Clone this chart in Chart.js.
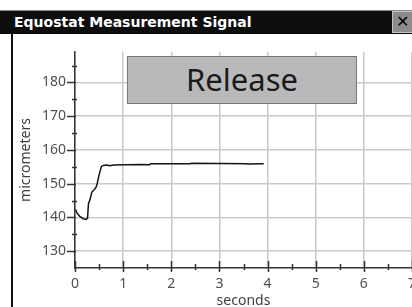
<!DOCTYPE html>
<html>
<head>
<meta charset="utf-8">
<script src="https://cdn.jsdelivr.net/npm/chart.js@4/dist/chart.umd.min.js"></script>
<style>
  html, body { margin: 0; padding: 0; background: #fff; }
  #wrap { position: relative; width: 412px; height: 307px; overflow: hidden; background: #fff; }
  #plot { position: absolute; left: 0; top: 0; }
  #titlebar {
    position: absolute; left: 0; top: 10px; width: 412px; height: 24px;
    background: #0d0d0d; border-top: 1px solid #888; box-sizing: border-box;
    color: #fff; font: bold 14px "DejaVu Sans", sans-serif; line-height: 22px;
    padding-left: 14px; white-space: nowrap;
  }
  #closebtn {
    position: absolute; left: 392px; top: 11px; width: 24px; height: 22px;
    background: #8c8c8c; border: 1px solid #c4c4c4; box-sizing: border-box;
    color: #000; font: bold 16px "DejaVu Sans", sans-serif; line-height: 20px;
    padding-left: 3px;
  }
  #leftedge { position: absolute; left: 11px; top: 34px; width: 2px; height: 273px; background: #111; }
  #release {
    position: absolute; left: 127px; top: 56px; width: 230px; height: 48px;
    background: #b9b9bc; border: 1.5px solid #767676; box-sizing: border-box;
    font: 31px "Noto Sans", sans-serif; color: #1a1a1a; text-align: center; line-height: 44px;
  }
</style>
</head>
<body>
<div id="wrap">
  <canvas id="plot" width="412" height="307"></canvas>
  <div id="leftedge"></div>
  <div id="titlebar">Equostat Measurement Signal</div>
  <div id="closebtn">✕</div>
  <div id="release">Release</div>
</div>
<script>
// signal samples
const timeSec = [0.01, 0.05, 0.10, 0.17, 0.23, 0.26, 0.28, 0.31, 0.35, 0.40, 0.44, 0.46, 0.49, 0.52, 0.55, 0.59, 0.66, 0.73, 0.80, 1.34, 1.55, 1.57, 2.40, 2.42, 3.57, 3.59, 3.92];
const microns = [142.3, 141.1, 140.3, 139.6, 139.4, 139.8, 144.1, 145.2, 147.5, 148.2, 149.0, 150.0, 151.9, 153.7, 155.1, 155.4, 155.5, 155.3, 155.5, 155.7, 155.6, 155.9, 155.9, 156.0, 155.9, 155.8, 155.9];

const xTicks = [0, 1, 2, 3, 4, 5, 6, 7];
const yTicks = [130, 140, 150, 160, 170, 180];
const xRange = [0, 7];
const yRange = [125, 189];

const labelFont = { family: 'Noto Sans', size: 14 };

// tick marks crossing the axis lines (major + minor)
const axisTicks = {
  id: 'axisTicks',
  afterDraw(chart) {
    const ctx = chart.ctx;
    const xs = chart.scales.x, ys = chart.scales.y;
    const x0 = xs.left, yb = ys.bottom;
    ctx.save();
    ctx.strokeStyle = '#333';
    ctx.lineWidth = 1.5;
    ctx.beginPath();
    for (let v = xRange[0]; v <= xRange[1]; v += 0.5) {
      const px = Math.round(xs.getPixelForValue(v)) + 0.5;
      const major = v % 1 === 0;
      ctx.moveTo(px, yb - (major ? 7 : 4));
      ctx.lineTo(px, yb + (major ? 4 : 2));
    }
    for (let v = 130; v <= 185; v += 5) {
      const py = Math.round(ys.getPixelForValue(v)) + 0.5;
      const major = v % 10 === 0;
      ctx.moveTo(x0 - (major ? 8 : 3), py);
      ctx.lineTo(x0 + (major ? 1 : 2), py);
    }
    ctx.stroke();
    ctx.restore();
  }
};

new Chart(document.getElementById('plot'), {
  type: 'line',
  data: {
    datasets: [{
      data: timeSec.map((t, i) => ({ x: t, y: microns[i] })),
      borderColor: '#151515',
      borderWidth: 1.5,
      pointRadius: 0,
      tension: 0,
      fill: false
    }]
  },
  options: {
    responsive: false,
    animation: false,
    events: [],
    layout: { padding: { top: 52, left: 0, right: 0, bottom: 0 } },
    plugins: { legend: { display: false }, tooltip: { enabled: false } },
    scales: {
      x: {
        type: 'linear',
        min: xRange[0],
        max: xRange[1],
        afterBuildTicks: s => { s.ticks = xTicks.map(v => ({ value: v })); },
        afterFit: s => { s.height = 39; s.paddingLeft = 0; s.paddingRight = 0; },
        ticks: { font: labelFont, color: '#505050', padding: 8, maxRotation: 0, autoSkip: false },
        grid: { color: '#cacaca', lineWidth: 1.5, drawTicks: false },
        border: { display: true, color: '#333', width: 1.5 },
        title: { display: true, text: 'seconds', font: labelFont, color: '#404040', padding: { top: 0, bottom: -2 } }
      },
      y: {
        min: yRange[0],
        max: yRange[1],
        afterBuildTicks: s => { s.ticks = yTicks.map(v => ({ value: v })); },
        afterFit: s => { s.width = 75; },
        ticks: { font: labelFont, color: '#505050', padding: 9 },
        grid: { color: '#cacaca', lineWidth: 1.5, drawTicks: false },
        border: { display: true, color: '#333', width: 1.5 },
        title: { display: true, text: 'micrometers', font: labelFont, color: '#404040', padding: { top: 18, bottom: 0 } }
      }
    }
  },
  plugins: [axisTicks]
});
</script>
</body>
</html>
